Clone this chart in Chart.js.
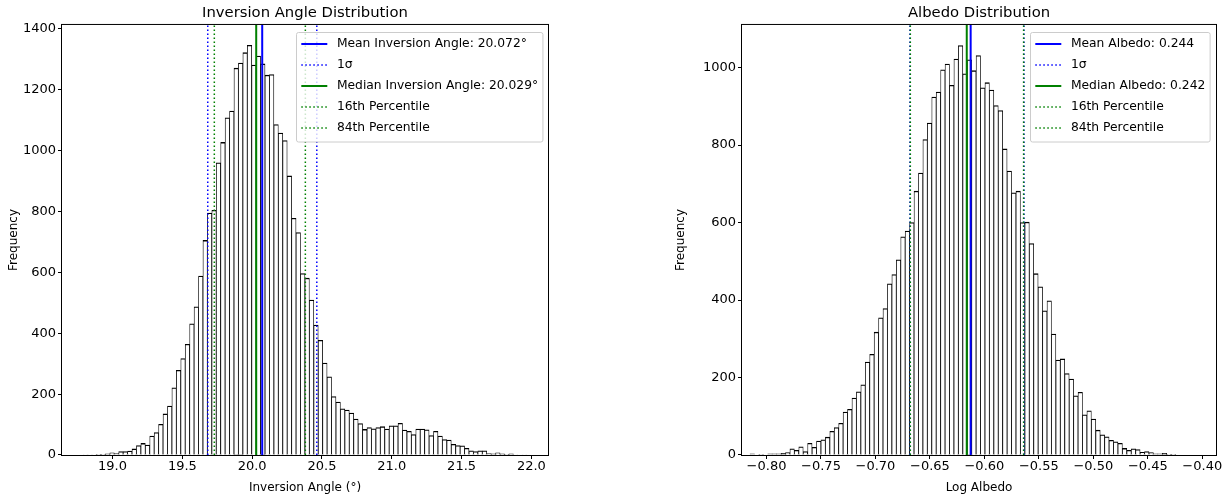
<!DOCTYPE html>
<html>
<head>
<meta charset="utf-8">
<script src="https://cdn.jsdelivr.net/npm/chart.js@4.4.1/dist/chart.umd.min.js"></script>
<style>
  html, body { margin: 0; padding: 0; background: #fff; }
  #wrap { position: relative; width: 1232px; height: 497px; }
  canvas { position: absolute; top: 0; }
</style>
</head>
<body>
<div id="wrap">
  <canvas id="angleChart" width="616" height="497" style="left:0"></canvas>
  <canvas id="albedoChart" width="616" height="497" style="left:616px"></canvas>
</div>
<script>
// ---- inversion angle histogram (100 bins) ----
const angleBinStart = 18.790;
const angleBinWidth = 0.03176;
const angleCounts = [
  1, 1, 1, 2, 2, 4, 7, 5, 11, 11,
  13, 20, 31, 38, 33, 62, 74, 101, 135, 161,
  221, 278, 317, 364, 431, 487, 588, 705, 795, 804,
  960, 1027, 1108, 1130, 1271, 1288, 1322, 1346, 1281, 1311,
  1285, 1248, 1250, 1086, 1058, 1033, 917, 778, 731, 596,
  581, 509, 427, 377, 302, 257, 192, 174, 152, 148,
  138, 118, 103, 84, 90, 86, 90, 93, 85, 96,
  96, 104, 82, 78, 67, 85, 85, 83, 64, 78,
  62, 51, 49, 35, 31, 30, 22, 14, 11, 14,
  14, 5, 4, 7, 4, 2, 4, 1, 0, 1
];
const angleTicksX = [19.0, 19.5, 20.0, 20.5, 21.0, 21.5, 22.0];
const angleTicksY = [0, 200, 400, 600, 800, 1000, 1200, 1400];
const angleMean = 20.072;
const angleSigmaLo = 19.682;
const angleSigmaHi = 20.463;
const angleMedian = 20.029;
const angleP16 = 19.729;
const angleP84 = 20.381;

// ---- log albedo histogram (100 bins) ----
const albedoBinStart = -0.81514;
const albedoBinWidth = 0.004069;
const albedoCounts = [
  3, 1, 2, 1, 3, 3, 3, 4, 6, 16,
  12, 21, 9, 30, 20, 36, 39, 46, 61, 71,
  82, 111, 118, 147, 163, 181, 240, 260, 317, 354,
  378, 442, 466, 504, 563, 578, 600, 681, 728, 814,
  857, 924, 937, 994, 1009, 954, 1022, 1057, 984, 1020,
  992, 1031, 948, 961, 942, 902, 889, 790, 733, 677,
  681, 600, 601, 546, 468, 434, 372, 398, 312, 245,
  248, 210, 196, 153, 162, 104, 114, 93, 64, 52,
  47, 38, 34, 30, 17, 12, 16, 14, 7, 9,
  6, 3, 3, 4, 2, 2, 1, 1, 1, 1
];
const albedoTicksX = [-0.80, -0.75, -0.70, -0.65, -0.60, -0.55, -0.50, -0.45, -0.40];
const albedoTicksY = [0, 200, 400, 600, 800, 1000];
const albedoMean = -0.61261;   // log10(0.244)
const albedoSigmaLo = -0.6683;
const albedoSigmaHi = -0.5637;
const albedoMedian = -0.61619; // log10(0.242)
const albedoP16 = -0.6680;
const albedoP84 = -0.5640;

Chart.defaults.font.family = "'DejaVu Sans', sans-serif";
Chart.defaults.font.size = 12;
Chart.defaults.color = '#000';

const BLUE = '#0000ff';
const GREEN = '#008000';

function histPoints(start, width, counts) {
  return counts.map((c, i) => ({ x: start + (i + 0.5) * width, y: c }));
}

function vline(x, yTop, label, color, dotted, order) {
  return {
    type: 'line',
    label: label,
    data: [{ x: x, y: 0 }, { x: x, y: yTop }],
    borderColor: color,
    borderWidth: dotted ? 1.5 : 2,
    borderDash: dotted ? [1.5, 2.5] : [],
    pointRadius: 0,
    fill: false,
    order: order
  };
}

// black box round the plot, like matplotlib spines
const frame = {
  id: 'frame',
  afterDatasetsDraw(chart) {
    const a = chart.chartArea, ctx = chart.ctx;
    ctx.save();
    ctx.strokeStyle = '#000';
    ctx.lineWidth = 1;
    ctx.strokeRect(a.left - 0.5, a.top - 0.5, a.right - a.left + 1, a.bottom - a.top + 1);
    ctx.restore();
  }
};

// legend box in upper right, drawn from the labelled line datasets
const boxLegend = {
  id: 'boxLegend',
  afterDatasetsDraw(chart) {
    const ctx = chart.ctx, a = chart.chartArea;
    const items = chart.data.datasets.filter(d => d.type === 'line' && d.label);
    ctx.save();
    ctx.font = "12.3px 'DejaVu Sans'";
    const textW = Math.max(...items.map(d => ctx.measureText(d.label).width));
    const pad = 4.8, handle = 26, gap = 9.6, rowH = 21.1;
    const w = pad + handle + gap + textW + pad;
    const h = items.length * rowH + 4;
    const x0 = Math.round(a.right - 6 - w) + 0.5, y0 = Math.round(a.top + 7) + 0.5;
    ctx.fillStyle = 'rgba(255,255,255,0.8)';
    ctx.strokeStyle = '#cccccc';
    ctx.lineWidth = 1;
    ctx.beginPath();
    ctx.roundRect(x0, y0, w, h, 2);
    ctx.fill();
    ctx.stroke();
    items.forEach((d, i) => {
      const cy = Math.round(y0 + 11 + i * rowH);
      ctx.strokeStyle = d.borderColor;
      ctx.lineWidth = d.borderWidth;
      ctx.setLineDash(d.borderDash);
      ctx.beginPath();
      ctx.moveTo(x0 + pad, cy);
      ctx.lineTo(x0 + pad + handle, cy);
      ctx.stroke();
      ctx.setLineDash([]);
      ctx.fillStyle = '#000';
      ctx.textBaseline = 'middle';
      ctx.fillText(d.label, x0 + pad + handle + gap, cy);
    });
    ctx.restore();
  }
};

function makeHist(id, o) {
  return new Chart(document.getElementById(id), {
    type: 'bar',
    data: {
      datasets: [
        {
          type: 'bar',
          data: histPoints(o.binStart, o.binWidth, o.counts),
          backgroundColor: '#ffffff',
          borderColor: '#000000',
          borderWidth: { top: 1.3, left: 0.8, right: 0.8, bottom: 0 },
          barPercentage: 1,
          categoryPercentage: 1,
          order: 10
        },
        ...o.lines
      ]
    },
    options: {
      responsive: false,
      animation: false,
      layout: { padding: { left: o.padLeft, right: o.padRight, top: 0, bottom: 0 } },
      plugins: {
        legend: { display: false },
        tooltip: { enabled: false },
        title: {
          display: true,
          text: o.title,
          fullSize: false,
          color: '#000',
          font: { size: 14.8, weight: 'normal' },
          padding: { top: 3.8, bottom: 3.4 }
        }
      },
      scales: {
        x: {
          type: 'linear',
          min: o.xMin,
          max: o.xMax,
          offset: false,
          border: { display: false },
          grid: { offset: false, drawOnChartArea: false, tickLength: 4, color: '#000' },
          ticks: { padding: 0, maxRotation: 0, autoSkip: false, font: { size: 13 }, callback: o.xFmt },
          afterBuildTicks: s => { s.ticks = o.xTicks.map(v => ({ value: v })); },
          afterFit: s => { s.height = 42; },
          title: { display: true, text: o.xTitle, padding: { top: 0, bottom: 2 } }
        },
        y: {
          min: 0,
          max: o.yMax,
          border: { display: false },
          grid: { offset: false, drawOnChartArea: false, tickLength: 4, color: '#000' },
          ticks: { padding: 2, font: { size: 13 }, callback: v => String(v) },
          afterBuildTicks: s => { s.ticks = o.yTicks.map(v => ({ value: v })); },
          afterFit: s => { s.width = o.yWidth; },
          title: { display: true, text: 'Frequency', padding: { top: 7, bottom: 0 } }
        }
      }
    },
    plugins: [frame, boxLegend]
  });
}

const angleYMax = 1413;
makeHist('angleChart', {
  title: 'Inversion Angle Distribution',
  xTitle: 'Inversion Angle (°)',
  binStart: angleBinStart, binWidth: angleBinWidth, counts: angleCounts,
  xMin: 18.638, xMax: 22.119, yMax: angleYMax,
  xTicks: angleTicksX, yTicks: angleTicksY,
  xFmt: v => v.toFixed(1),
  padLeft: 0, padRight: 68, yWidth: 62,
  lines: [
    vline(angleMean, angleYMax, 'Mean Inversion Angle: 20.072°', BLUE, false, 5),
    vline(angleSigmaLo, angleYMax, '1σ', BLUE, true, 4),
    vline(angleSigmaHi, angleYMax, '', BLUE, true, 4),
    vline(angleMedian, angleYMax, 'Median Inversion Angle: 20.029°', GREEN, false, 3),
    vline(angleP16, angleYMax, '16th Percentile', GREEN, true, 2),
    vline(angleP84, angleYMax, '84th Percentile', GREEN, true, 1)
  ]
});

const albedoYMax = 1110;
makeHist('albedoChart', {
  title: 'Albedo Distribution',
  xTitle: 'Log Albedo',
  binStart: albedoBinStart, binWidth: albedoBinWidth, counts: albedoCounts,
  xMin: -0.8225, xMax: -0.3874, yMax: albedoYMax,
  xTicks: albedoTicksX, yTicks: albedoTicksY,
  xFmt: v => (v < 0 ? '\u2212' : '') + Math.abs(v).toFixed(2),
  padLeft: 51, padRight: 16, yWidth: 75,
  lines: [
    vline(albedoMean, albedoYMax, 'Mean Albedo: 0.244', BLUE, false, 5),
    vline(albedoSigmaLo, albedoYMax, '1σ', BLUE, true, 4),
    vline(albedoSigmaHi, albedoYMax, '', BLUE, true, 4),
    vline(albedoMedian, albedoYMax, 'Median Albedo: 0.242', GREEN, false, 3),
    vline(albedoP16, albedoYMax, '16th Percentile', GREEN, true, 2),
    vline(albedoP84, albedoYMax, '84th Percentile', GREEN, true, 1)
  ]
});
</script>
</body>
</html>
